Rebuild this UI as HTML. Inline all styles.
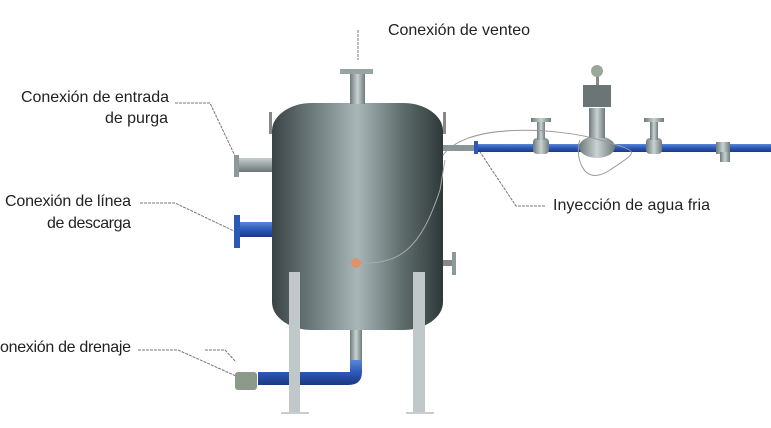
<!DOCTYPE html>
<html><head><style>body{margin:0;background:#fff}svg{display:block}text{font-family:"Liberation Sans",sans-serif;font-size:16px;fill:#222}</style></head><body>
<svg width="771" height="428" viewBox="0 0 771 428" xmlns="http://www.w3.org/2000/svg">
<defs>
<linearGradient id="t" x1="0" x2="1"><stop offset="0" stop-color="#3a4446"/><stop offset="0.25" stop-color="#6f7d7f"/><stop offset="0.5" stop-color="#a8b6b8"/><stop offset="0.75" stop-color="#62706f"/><stop offset="1" stop-color="#2f3839"/></linearGradient>
<linearGradient id="g" x1="0" y1="0" x2="0" y2="1"><stop offset="0" stop-color="#c8d0d0"/><stop offset="1" stop-color="#6a7474"/></linearGradient>
<linearGradient id="b" x1="0" y1="0" x2="0" y2="1"><stop offset="0" stop-color="#5a86d8"/><stop offset="0.5" stop-color="#2c58b8"/><stop offset="1" stop-color="#1a3a80"/></linearGradient>
<linearGradient id="v" x1="0" x2="1"><stop offset="0" stop-color="#6e7a7a"/><stop offset=".5" stop-color="#c9d2d2"/><stop offset="1" stop-color="#6e7a7a"/></linearGradient>
</defs>
<text x="388" y="35" textLength="142">Conexión de venteo</text>
<text x="21" y="102" textLength="148">Conexión de entrada</text>
<text x="105" y="123" textLength="63">de purga</text>
<text x="5" y="206" textLength="126">Conexión de línea</text>
<text x="47" y="228" textLength="84">de descarga</text>
<text x="0" y="352" textLength="131">onexión de drenaje</text>
<text x="553" y="210" textLength="157">Inyección de agua fria</text>
<g stroke="#777" stroke-width="1" fill="none" stroke-dasharray="3,1">
<path d="M358 30V60"/><path d="M175 103H210L236 158"/><path d="M140 203H175L234 231"/><path d="M138 350H178L236 376"/><path d="M205 350H225L236 362"/><path d="M545 206H516L480 152"/>
</g>
<rect x="443" y="145" width="35" height="6" fill="#8a9596"/>
<rect x="476" y="144" width="295" height="8" fill="url(#b)"/>
<rect x="474" y="141" width="4" height="13" fill="#2c58b8"/>
<g fill="url(#v)">
<rect x="533" y="138" width="16" height="16" rx="4"/><rect x="537" y="122" width="8" height="18"/><rect x="531" y="118" width="20" height="4"/>
<rect x="646" y="138" width="16" height="16" rx="4"/><rect x="650" y="122" width="8" height="18"/><rect x="644" y="118" width="20" height="4"/>
<ellipse cx="597" cy="147" rx="18" ry="11"/><rect x="589" y="108" width="16" height="30"/>
<rect x="583" y="85" width="28" height="22" fill="#6b7575"/><rect x="596" y="70" width="3" height="15" fill="#888"/>
<rect x="716" y="142" width="14" height="12"/><rect x="720" y="152" width="10" height="10"/>
</g>
<circle cx="597" cy="71" r="6" fill="#9aa89a"/>
<path d="M440 160C460 120 560 128 600 140S640 150 610 170S575 150 580 140" stroke="#999" fill="none"/>
<rect x="272" y="103" width="171" height="227" rx="40" ry="28" fill="url(#t)"/>
<rect x="269" y="112" width="3" height="22" fill="#888"/><rect x="443" y="112" width="3" height="22" fill="#888"/>
<rect x="350" y="72" width="15" height="32" fill="url(#v)"/><rect x="340" y="69" width="33" height="5" fill="#99a3a4"/>
<rect x="238" y="158" width="34" height="14" fill="url(#g)"/><rect x="234" y="155" width="5" height="22" fill="#8e9899"/>
<rect x="238" y="222" width="34" height="15" fill="url(#b)"/><rect x="234" y="215" width="6" height="33" fill="#2c58b8"/>
<rect x="443" y="260" width="10" height="6" fill="#888"/><rect x="452" y="252" width="4" height="23" fill="#8e9899"/>
<path d="M356 263C400 265 420 250 440 190L445 160" stroke="#aaa" fill="none"/>
<circle cx="356" cy="263" r="5" fill="#e0926a"/>
<rect x="350" y="330" width="12" height="36" fill="url(#v)"/>
<path d="M350 360H362V372Q362 385 348 385H258V372H350Z" fill="url(#b)"/>
<rect x="235" y="372" width="22" height="18" rx="3" fill="#8c9a8a"/>
<rect x="289" y="272" width="11" height="141" fill="#c0c8c9"/><rect x="413" y="272" width="12" height="141" fill="#c0c8c9"/>
<rect x="281" y="412" width="28" height="2" fill="#ccc"/><rect x="406" y="412" width="28" height="2" fill="#ccc"/>
</svg>
</body></html>
